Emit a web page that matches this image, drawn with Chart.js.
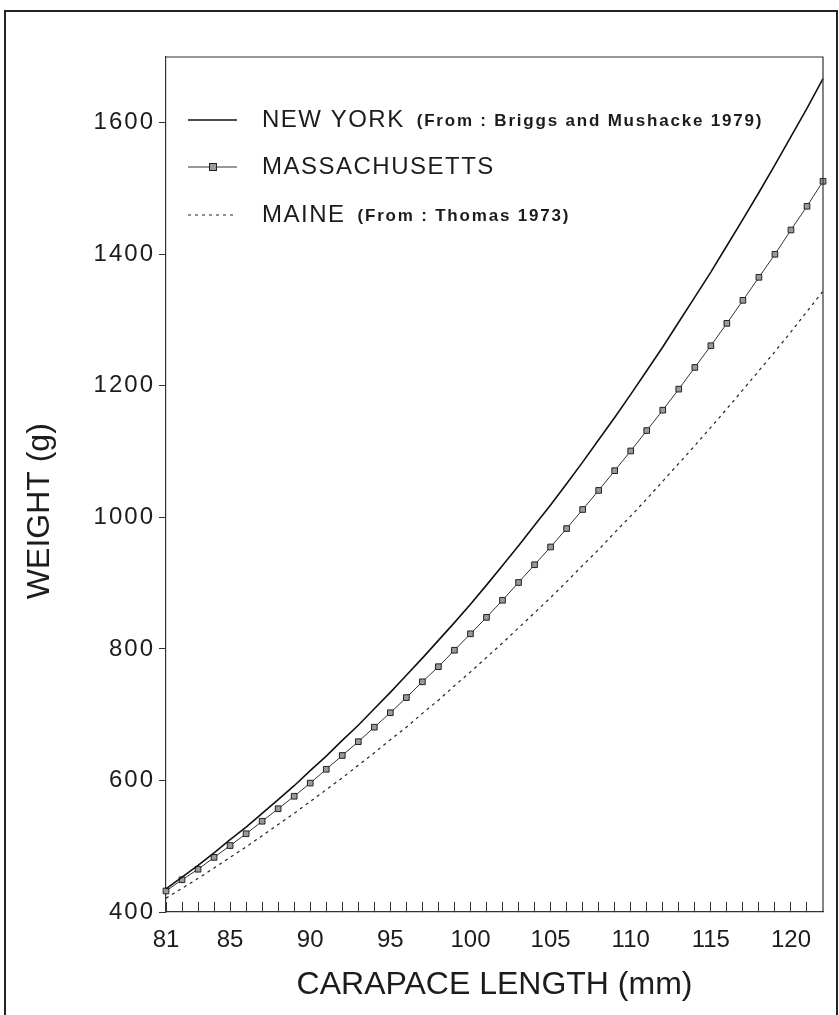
<!DOCTYPE html>
<html>
<head>
<meta charset="utf-8">
<script src="https://cdn.jsdelivr.net/npm/chart.js@4.4.1/dist/chart.umd.min.js"></script>
<style>
  body { margin: 0; background: #fff; }
  canvas { display: block; }
</style>
</head>
<body>
<canvas id="lobster" width="839" height="1015"></canvas>
<script>
const lengths = [81, 82, 83, 84, 85, 86, 87, 88, 89, 90, 91, 92, 93, 94, 95, 96, 97, 98, 99, 100, 101,
  102, 103, 104, 105, 106, 107, 108, 109, 110, 111, 112, 113, 114, 115, 116, 117, 118, 119, 120, 121, 122];

const newYork = [435, 453, 471, 490, 510, 529, 550, 571, 592, 615, 637, 661, 684, 709, 734, 760, 786, 813, 840, 868, 897,
  927, 957, 988, 1019, 1051, 1084, 1118, 1152, 1187, 1223, 1259, 1297, 1335, 1373, 1413, 1453, 1494, 1536, 1579, 1622, 1667];

const massachusetts = [432, 449, 465, 483, 501, 519, 538, 557, 576, 596, 617, 638, 659, 681, 703, 726, 750, 773, 798, 823, 848,
  874, 901, 928, 955, 983, 1012, 1041, 1071, 1101, 1132, 1163, 1195, 1228, 1261, 1295, 1330, 1365, 1400, 1437, 1473, 1511];

const maine = [421, 436, 451, 467, 483, 499, 516, 533, 550, 568, 586, 604, 623, 642, 662, 681, 702, 722, 744, 765, 787,
  809, 832, 855, 878, 902, 927, 951, 977, 1002, 1028, 1055, 1082, 1109, 1137, 1165, 1194, 1223, 1252, 1282, 1313, 1344];

const yTicks = [400, 600, 800, 1000, 1200, 1400, 1600];
const xLabels = [81, 85, 90, 95, 100, 105, 110, 115, 120];

const legendRows = [
  { name: 'NEW YORK', note: '(From : Briggs and Mushacke 1979)' },
  { name: 'MASSACHUSETTS', note: '' },
  { name: 'MAINE', note: '(From : Thomas 1973)' }
];

const FONT = "'Liberation Sans', Arial, sans-serif";
const INK = '#1c1c1c';

const pts = (ys) => lengths.map((x, i) => ({ x: x, y: ys[i] }));

// frames, legend, and letter spacing for the y labels
const paperPlugin = {
  id: 'paper',
  beforeDraw(chart) {
    const ctx = chart.ctx;
    ctx.save();
    ctx.strokeStyle = '#222';
    ctx.lineWidth = 2;
    ctx.strokeRect(5, 11, 832, 1040);
    ctx.restore();
  },
  afterDatasetsDraw(chart) {
    chart.ctx.letterSpacing = '2px';
  },
  afterDraw(chart) {
    const ctx = chart.ctx;
    const a = chart.chartArea;
    ctx.letterSpacing = '0px';
    ctx.save();
    ctx.strokeStyle = '#333';
    ctx.lineWidth = 1.2;
    ctx.beginPath();
    ctx.moveTo(a.left, a.top);
    ctx.lineTo(a.right, a.top);
    ctx.lineTo(a.right, a.bottom);
    ctx.stroke();

    const rowY = [120, 167, 215];
    const x0 = 188, x1 = 237, tx = 262;
    chart.data.datasets.forEach((ds, i) => {
      const y = rowY[i];
      ctx.strokeStyle = ds.borderColor;
      ctx.lineWidth = ds.borderWidth;
      ctx.setLineDash(ds.borderDash || []);
      ctx.beginPath();
      ctx.moveTo(x0, y);
      ctx.lineTo(x1, y);
      ctx.stroke();
      ctx.setLineDash([]);
      if (ds.pointRadius > 0) {
        ctx.fillStyle = ds.pointBackgroundColor;
        ctx.strokeStyle = ds.pointBorderColor;
        ctx.lineWidth = 1;
        ctx.fillRect(209, y - 4, 8, 8);
        ctx.strokeRect(209.5, y - 3.5, 7, 7);
      }
      ctx.fillStyle = INK;
      ctx.textBaseline = 'middle';
      ctx.textAlign = 'left';
      ctx.letterSpacing = '1.5px';
      ctx.font = '24px ' + FONT;
      ctx.fillText(legendRows[i].name, tx, y);
      const w = ctx.measureText(legendRows[i].name).width;
      if (legendRows[i].note) {
        ctx.letterSpacing = '1.8px';
        ctx.font = 'bold 17px ' + FONT;
        ctx.fillText(legendRows[i].note, tx + w + 12, y + 1);
      }
      ctx.letterSpacing = '0px';
    });
    ctx.restore();
  }
};

new Chart(document.getElementById('lobster'), {
  type: 'line',
  data: {
    datasets: [
      {
        label: 'NEW YORK',
        data: pts(newYork),
        borderColor: '#111',
        borderWidth: 1.6,
        pointRadius: 0,
        tension: 0,
        clip: false
      },
      {
        label: 'MASSACHUSETTS',
        data: pts(massachusetts),
        borderColor: '#333',
        borderWidth: 1,
        pointStyle: 'rect',
        pointRadius: 4,
        pointBackgroundColor: '#9a9a9a',
        pointBorderColor: '#222',
        pointBorderWidth: 1,
        tension: 0,
        clip: false
      },
      {
        label: 'MAINE',
        data: pts(maine),
        borderColor: '#222',
        borderWidth: 1.2,
        borderDash: [3, 4],
        pointRadius: 0,
        tension: 0,
        clip: false
      }
    ]
  },
  options: {
    responsive: false,
    animation: false,
    devicePixelRatio: 1,
    layout: { padding: { left: 0, top: 57, right: 16, bottom: 0 } },
    plugins: {
      legend: { display: false },
      tooltip: { enabled: false }
    },
    scales: {
      x: {
        type: 'linear',
        min: 81,
        max: 122,
        afterFit: (s) => { s.height = 103; },
        afterBuildTicks: (s) => { s.ticks = lengths.slice(0, -1).map(v => ({ value: v })); },
        grid: { drawOnChartArea: false, drawTicks: true, tickLength: -10, color: '#333', lineWidth: 1 },
        border: { display: true, color: '#333', width: 1.2 },
        ticks: {
          autoSkip: false,
          maxRotation: 0,
          padding: 24,
          color: INK,
          font: { family: FONT, size: 24 },
          callback: (v) => xLabels.includes(v) ? String(v) : ''
        },
        title: {
          display: true,
          text: 'CARAPACE LENGTH (mm)',
          color: INK,
          font: { family: FONT, size: 32 },
          padding: { top: 0, bottom: 11 }
        }
      },
      y: {
        min: 400,
        max: 1700,
        afterFit: (s) => { s.width = 166; },
        afterBuildTicks: (s) => { s.ticks = yTicks.map(v => ({ value: v })); },
        grid: { drawOnChartArea: false, drawTicks: true, tickLength: 7, color: '#333', lineWidth: 1 },
        border: { display: true, color: '#333', width: 1.2 },
        ticks: {
          z: 1,
          padding: 4,
          color: INK,
          font: { family: FONT, size: 24 },
          callback: (v) => String(v)
        },
        title: {
          display: true,
          text: 'WEIGHT (g)      ',
          color: INK,
          font: { family: FONT, size: 32 },
          padding: { top: 21, bottom: 0 }
        }
      }
    }
  },
  plugins: [paperPlugin]
});
</script>
</body>
</html>
